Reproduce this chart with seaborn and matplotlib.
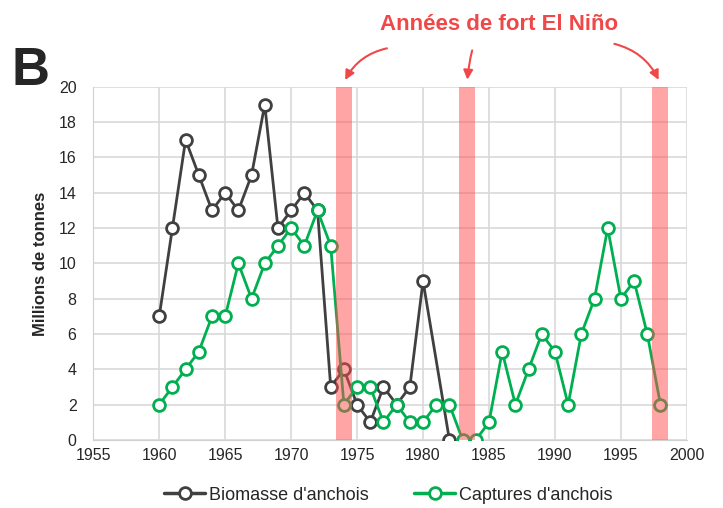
import numpy as np
import pandas as pd
import seaborn as sns
import matplotlib.pyplot as plt
from matplotlib.lines import Line2D

# anchovy data (millions of tonnes)
bio_years = [1960, 1961, 1962, 1963, 1964, 1965, 1966, 1967, 1968, 1969, 1970,
             1971, 1972, 1973, 1974, 1975, 1976, 1977, 1978, 1979, 1980, 1982]
biomass = [7, 12, 17, 15, 13, 14, 13, 15, 19, 12, 13,
           14, 13, 3, 4, 2, 1, 3, 2, 3, 9, 0]

cap_years = list(range(1960, 1999))
captures = [2, 3, 4, 5, 7, 7, 10, 8, 10, 11, 12, 11, 13, 11, 2, 3, 3, 1, 2, 1,
            1, 2, 2, 0, 0, 1, 5, 2, 4, 6, 5, 2, 6, 8, 12, 8, 9, 6, 2]

nino_spans = [(1973.4, 1974.65), (1982.75, 1983.95), (1997.35, 1998.6)]

lbl_bio = "Biomasse d'anchois"
lbl_cap = "Captures d'anchois"

df = pd.concat([
    pd.DataFrame({'annee': bio_years, 'val': biomass, 'serie': lbl_bio}),
    pd.DataFrame({'annee': cap_years, 'val': captures, 'serie': lbl_cap}),
])

sns.set_style('whitegrid')
plt.rcParams['font.family'] = ['Liberation Sans', 'DejaVu Sans']

fig = plt.figure(figsize=(7.23, 5.08), dpi=100)
ax = fig.add_axes([0.129, 0.134, 0.821, 0.695])

pal = {lbl_bio: '#404040', lbl_cap: '#00b050'}
sns.lineplot(data=df, x='annee', y='val', hue='serie', palette=pal, ax=ax,
             marker='o', markersize=8.5, markerfacecolor='white',
             markeredgewidth=2, linewidth=2, legend=False, zorder=3)
# marker edges follow the line colours
for line in ax.get_lines():
    line.set_markeredgecolor(line.get_color())

for a, b in nino_spans:
    ax.axvspan(a, b, color='#ff4d4d', alpha=0.5, lw=0, zorder=4)

ax.set_xlim(1955, 2000)
ax.set_ylim(0, 20)
ax.set_xticks(range(1955, 2001, 5))
ax.set_yticks(range(0, 21, 2))
ax.tick_params(labelsize=11.5, length=0)
ax.tick_params(axis='y', pad=12)
ax.tick_params(axis='x', pad=6)
ax.grid(True, color='#d9d9d9', lw=1.2)
for s in ax.spines.values():
    s.set_visible(False)
ax.spines['left'].set_visible(True)
ax.spines['bottom'].set_visible(True)
ax.spines['left'].set_color('#d0d0d0')
ax.spines['bottom'].set_color('#d0d0d0')
ax.set_xlabel('')
ax.set_ylabel('Millions de tonnes', fontsize=12, fontweight='bold', labelpad=8)

# legend
handles = [Line2D([], [], color=pal[k], lw=2.5, marker='o', markersize=8.5,
                  markerfacecolor='white', markeredgewidth=2) for k in pal]
fig.legend(handles, list(pal), loc='center', bbox_to_anchor=(0.537, 0.025),
           ncol=2, frameon=False, fontsize=13, handlelength=2.3,
           handletextpad=0.2, columnspacing=2.5)

fig.text(0.016, 0.833, 'B', fontsize=38, fontweight='bold', va='baseline')
red = '#f04848'
fig.text(0.69, 0.951, 'Années de fort El Niño', color=red, fontsize=16,
         fontweight='bold', ha='center', va='center')

arrows = [((0.539, 0.906), (1974.0, 20.25), 0.25),
          ((0.654, 0.906), (1983.35, 20.25), 0.05),
          ((0.846, 0.915), (1997.95, 20.25), -0.25)]
for (fx, fy), (dx, dy), rad in arrows:
    ax.annotate('', xy=(dx, dy), xycoords='data', xytext=(fx, fy),
                textcoords='figure fraction',
                arrowprops=dict(arrowstyle='-|>', color=red, lw=1.5,
                                mutation_scale=14,
                                connectionstyle='arc3,rad=%s' % rad),
                annotation_clip=False)

fig.savefig('out.png', dpi=100)
